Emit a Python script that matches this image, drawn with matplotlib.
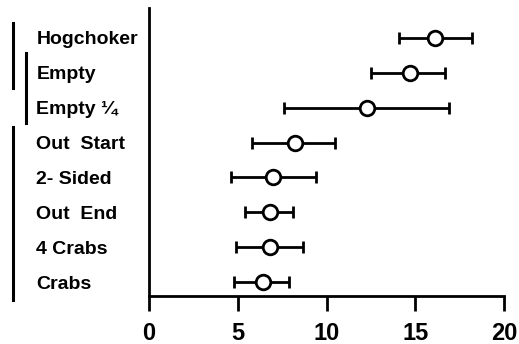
import matplotlib
matplotlib.use("Agg")
import matplotlib.pyplot as plt
from matplotlib.lines import Line2D

categories = ["Hogchoker", "Empty", "Empty ¼", "Out  Start", "2- Sided",
              "Out  End", "4 Crabs", "Crabs"]
means = [16.1, 14.7, 12.3, 8.2, 7.0, 6.8, 6.8, 6.4]
lower = [14.1, 12.5, 7.6, 5.8, 4.6, 5.4, 4.9, 4.8]
upper = [18.2, 16.7, 16.9, 10.5, 9.4, 8.1, 8.7, 7.9]
xticks = [0, 5, 10, 15, 20]

W, H = 519, 344
fig = plt.figure(figsize=(W / 100, H / 100), dpi=100)
ax = fig.add_axes([149 / W, (H - 296) / H, (504 - 149) / W, (296 - 8) / H])

n = len(categories)
ypos = list(range(n))
xerr = [[m - l for m, l in zip(means, lower)], [u - m for m, u in zip(means, upper)]]
ax.errorbar(means, ypos, xerr=xerr, fmt="o", color="black", mfc="white",
            mec="black", ms=10.5, mew=2.0, elinewidth=2.0, capsize=4.5,
            capthick=2.0, zorder=3)

ax.set_xlim(0, 20)
ax.set_ylim(7.40, -0.86)
ax.set_xticks(xticks)
ax.set_xticklabels([str(t) for t in xticks])
ax.set_yticks(ypos)
ax.set_yticklabels(categories)

for s in ["top", "right"]:
    ax.spines[s].set_visible(False)
for s in ["left", "bottom"]:
    ax.spines[s].set_linewidth(2.0)

ax.tick_params(axis="x", direction="out", length=11, width=2.0, pad=8,
               labelsize=17)
ax.tick_params(axis="y", length=0, pad=81, labelsize=14)
for lab in ax.get_yticklabels():
    lab.set_ha("left")
    lab.set_fontfamily(["Liberation Sans", "DejaVu Sans"])
    lab.set_fontweight("bold")
for lab in ax.get_xticklabels():
    lab.set_fontfamily(["Liberation Sans", "DejaVu Sans"])
    lab.set_fontweight("bold")

# bracket lines on the left (figure pixel coordinates)
def vline(x, y0, y1):
    fig.add_artist(Line2D([x / W, x / W], [1 - y0 / H, 1 - y1 / H],
                          color="black", lw=2.2, transform=fig.transFigure))

vline(13, 23, 88)
vline(26, 53, 123)
vline(13, 127, 300)

fig.savefig("out.png", dpi=100, facecolor="white")
